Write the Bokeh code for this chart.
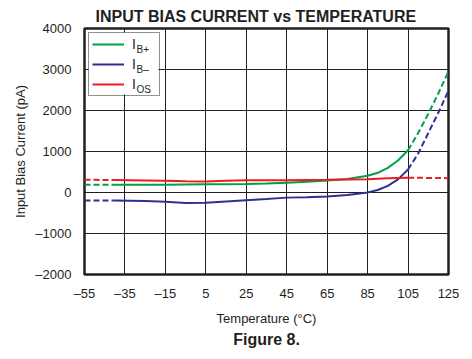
from bokeh.plotting import figure
from bokeh.models import Range1d, FixedTicker, Legend, LegendItem, Label, Title, BoxAnnotation
from bokeh.embed import file_html
from bokeh.resources import INLINE

# ---- data ----
temps = [-55, -40, -25, -15, -5, 5, 15, 25, 35, 45, 55, 65, 75, 85, 90, 95, 100, 105, 110, 115, 120, 125]
ib_plus = [190, 190, 188, 192, 198, 200, 200, 205, 220, 240, 260, 290, 330, 410, 480, 600, 780, 1030, 1450, 1920, 2420, 2950]
ib_minus = [-195, -197, -205, -225, -255, -250, -220, -190, -160, -125, -115, -95, -60, 0, 60, 160, 320, 560, 950, 1450, 1950, 2480]
i_os = [310, 305, 295, 285, 275, 270, 285, 300, 300, 300, 305, 310, 320, 325, 335, 345, 355, 360, 360, 355, 355, 350]

x_ticks = [-55, -35, -15, 5, 25, 45, 65, 85, 105, 125]
y_ticks = [-2000, -1000, 0, 1000, 2000, 3000, 4000]
series_names = ["B+", "B\u2013", "OS"]
series_colors = ["#00A04B", "#2E3192", "#ED1C24"]

# segment split: dashed below -40 and above 105
i_lo = temps.index(-40)
i_hi = temps.index(105)

FONT = "Liberation Sans"
INK = "#231F20"

p = figure(width=472, height=359, output_backend="svg", toolbar_location=None,
           x_range=Range1d(-55, 125), y_range=Range1d(-2000, 4000),
           min_border_left=84, min_border_right=24, min_border_top=28, min_border_bottom=85)
p.background_fill_color = "white"
p.border_fill_color = "white"
p.outline_line_color = INK
p.outline_line_width = 2.5

for ax in (p.xaxis[0], p.yaxis[0]):
    ax.axis_line_color = None
    ax.major_tick_line_color = None
    ax.minor_tick_line_color = None
    ax.major_tick_out = 0
    ax.major_tick_in = 0
    ax.major_label_text_font = FONT
    ax.major_label_text_font_size = "13px"
    ax.major_label_text_color = INK
    ax.axis_label_text_font = FONT
    ax.axis_label_text_font_size = "13px"
    ax.axis_label_text_font_style = "normal"
    ax.axis_label_text_color = INK

p.xaxis.ticker = FixedTicker(ticks=x_ticks)
p.yaxis.ticker = FixedTicker(ticks=y_ticks)
p.xaxis.major_label_overrides = {t: (str(t).replace("-", "\u2013")) for t in x_ticks}
p.yaxis.major_label_overrides = {t: (str(t).replace("-", "\u2013")) for t in y_ticks}
p.xaxis.axis_label = "Temperature (\u00b0C)"
p.yaxis.axis_label = "Input Bias Current (pA)"
p.xaxis.major_label_standoff = 11
p.yaxis.major_label_standoff = 13
p.xaxis.axis_label_standoff = 7
p.yaxis.axis_label_standoff = 4

p.xgrid.grid_line_color = INK
p.ygrid.grid_line_color = INK
p.xgrid.grid_line_width = 1
p.ygrid.grid_line_width = 1
p.xgrid.grid_line_alpha = 1.0
p.ygrid.grid_line_alpha = 1.0

# white backing for the legend (legend itself is transparent so subscripts show)
p.add_layout(BoxAnnotation(left=4, right=74, top=242, bottom=180,
                           left_units="screen", right_units="screen",
                           top_units="screen", bottom_units="screen",
                           fill_color="white", fill_alpha=1.0, line_color=None,
                           level="underlay"))

items = []
for vals, name, col in zip([ib_plus, ib_minus, i_os], series_names, series_colors):
    p.line(temps[:i_lo + 1], vals[:i_lo + 1], line_color=col, line_width=2, line_dash="6 3")
    r = p.line(temps[i_lo:i_hi + 1], vals[i_lo:i_hi + 1], line_color=col, line_width=2)
    p.line(temps[i_hi:], vals[i_hi:], line_color=col, line_width=2, line_dash="6 3")
    items.append(LegendItem(label="I", renderers=[r]))

legend = Legend(items=items, location="top_left", margin=4, padding=3, spacing=4,
                glyph_width=32, glyph_height=16, label_height=16, label_width=24, label_standoff=8,
                label_text_font=FONT, label_text_font_size="14px", label_text_color=INK,
                border_line_color=INK, border_line_width=1, background_fill_alpha=0.0)
p.add_layout(legend, "center")

# subscripts for legend labels (screen units relative to frame)
sub_y = [231, 211, 191]
for name, yy in zip(series_names, sub_y):
    p.add_layout(Label(x=52, y=yy, x_units="screen", y_units="screen", text=name,
                       text_font=FONT, text_font_size="10px", text_color=INK,
                       text_baseline="top", text_align="left"))

title = Title(text="INPUT BIAS CURRENT vs TEMPERATURE", align="left", offset=11,
              text_font=FONT, text_font_size="16px", text_font_style="bold",
              text_color=INK, standoff=7)
p.title = title

fig_title = Title(text="Figure 8.", align="center", text_font=FONT, text_font_size="16px",
                  text_font_style="bold", text_color=INK, standoff=0)
p.add_layout(fig_title, "below")

open("out.html", "w").write(file_html(p, INLINE))
